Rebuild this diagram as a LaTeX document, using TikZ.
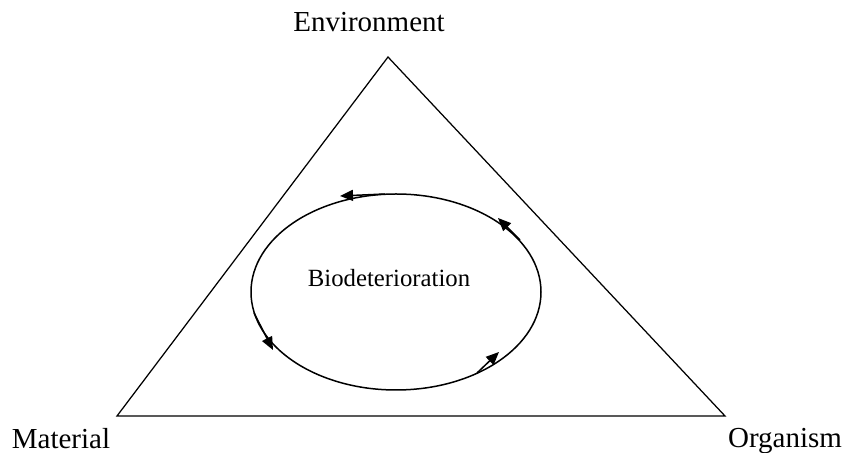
\documentclass[tikz,border=0pt]{standalone}
\usepackage{fontspec}
\setmainfont{Liberation Serif}
\usetikzlibrary{arrows.meta}

\begin{document}
\begin{tikzpicture}[
    x=0.4pt, y=0.4pt,
    lbl/.style={font=\fontsize{11.6}{14}\selectfont, inner sep=0pt, anchor=base},
    mid/.style={font=\fontsize{9.9}{12}\selectfont, inner sep=0pt, anchor=base},
    side/.style={line width=0.5pt, line join=miter},
    loop/.style={line width=0.6pt},
    e/.style={line width=0.6pt, -{Triangle[length=5.2pt, width=4.4pt]}},
  ]
  \useasboundingbox (0,0) rectangle (848,453);
  % triangle corners
  \coordinate (env) at (388,396);
  \coordinate (mat) at (117,37);
  \coordinate (org) at (725,37);
  \draw[side] (env) -- (org) -- (mat) -- cycle;
  \node[lbl] (tenv) at (369,421) {Environment};
  \node[lbl] (tmat) at (61,4) {Material};
  \node[lbl] (torg) at (785,5) {Organism};
  % the cycle
  \coordinate (c) at (396,161);
  \draw[loop] (c) ellipse [x radius=145, y radius=98];
  \node[mid] (bio) at (389,166) {Biodeterioration};
  \coordinate (a1) at (385,259);
  \coordinate (b1) at (340,257);
  \coordinate (a2) at (520,213);
  \coordinate (b2) at (498,235);
  \coordinate (a3) at (254,140);
  \coordinate (b3) at (273,103);
  \coordinate (a4) at (477,80);
  \coordinate (b4) at (499,101);
  \draw[e] (a1) -- (b1);
  \draw[e] (a2) -- (b2);
  \draw[e] (a3) -- (b3);
  \draw[e] (a4) -- (b4);
\end{tikzpicture}
\end{document}
